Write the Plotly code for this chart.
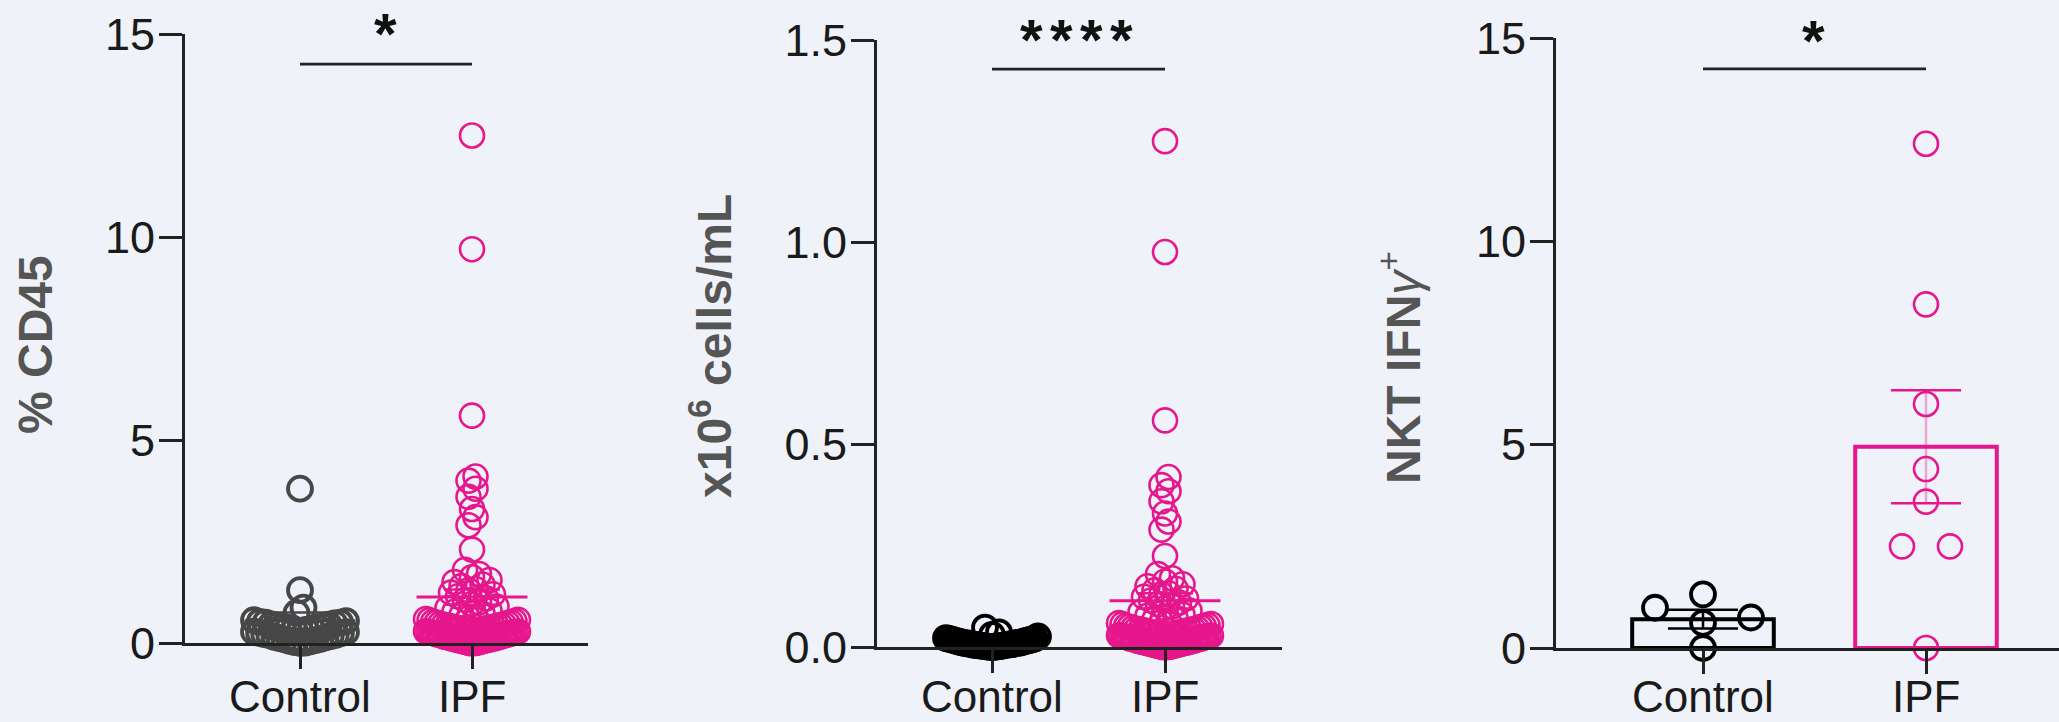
import plotly.graph_objects as go

# ---------------- data ----------------
categories = ["Control", "IPF"]

# Panel 1: % CD45
cd45_control = [3.8, 1.3, 0.87, 0.74,
                0.56, 0.54, 0.52, 0.5, 0.5, 0.48, 0.46, 0.45, 0.43, 0.42, 0.4, 0.38, 0.37, 0.35,
                0.33, 0.32, 0.3, 0.28, 0.27, 0.25, 0.24, 0.22, 0.2, 0.19, 0.17, 0.15, 0.14, 0.12,
                0.1, 0.09, 0.07, 0.05, 0.04, 0.02, 0.01, 0.0]
cd45_ipf = [12.5, 9.7, 5.6, 4.1, 4.0, 3.8, 3.6, 3.3, 3.1, 2.9, 2.3, 1.8,
            1.7, 1.62, 1.55, 1.5, 1.44, 1.4, 1.33, 1.3, 1.24, 1.2, 1.15, 1.1, 1.06, 1.0, 0.96,
            0.9, 0.86, 0.8, 0.77, 0.72, 0.68, 0.64, 0.61,
            0.59, 0.57, 0.56, 0.54, 0.52, 0.51, 0.5, 0.49, 0.47, 0.46, 0.45, 0.44, 0.43, 0.42,
            0.41, 0.4, 0.39, 0.38, 0.37, 0.36, 0.35, 0.34, 0.33, 0.32, 0.31, 0.3, 0.3,
            0.29, 0.28, 0.28, 0.27, 0.26, 0.25, 0.25, 0.24, 0.23, 0.22, 0.21, 0.2, 0.2, 0.19,
            0.18, 0.17, 0.16, 0.15, 0.15, 0.14, 0.13, 0.12, 0.12, 0.11, 0.1, 0.1, 0.09, 0.08,
            0.08, 0.07, 0.06, 0.05, 0.05, 0.04, 0.03, 0.02, 0.02, 0.01, 0.0, 0.0, 0.0]
cd45_mean = [0.55, 1.13]
cd45_sem = [0.20, 0.19]

# Panel 2: x10^6 cells/mL
cells_control = [0.048, 0.036, 0.03, 0.026, 0.022, 0.021, 0.02, 0.019, 0.018, 0.017, 0.016,
                 0.015, 0.014, 0.013, 0.012, 0.011, 0.01, 0.01, 0.009, 0.008, 0.008, 0.007,
                 0.006, 0.006, 0.005, 0.005, 0.004, 0.003, 0.003, 0.002, 0.002, 0.001, 0.001,
                 0.0, 0.0]
cells_ipf = [1.25, 0.976, 0.56, 0.42, 0.40, 0.385, 0.36, 0.33, 0.31, 0.29, 0.225, 0.18,
             0.17, 0.162, 0.155, 0.15, 0.144, 0.14, 0.133, 0.13, 0.124, 0.12, 0.115, 0.11, 0.106,
             0.1, 0.096, 0.09, 0.086, 0.08, 0.077, 0.072, 0.068, 0.064, 0.061,
             0.059, 0.057, 0.056, 0.054, 0.052, 0.051, 0.05, 0.049, 0.047, 0.046, 0.045, 0.044,
             0.043, 0.042, 0.041, 0.04, 0.039, 0.038, 0.037, 0.036, 0.035, 0.034, 0.033, 0.032,
             0.031, 0.03, 0.03, 0.029, 0.028, 0.028, 0.027, 0.026, 0.025, 0.025, 0.024, 0.023,
             0.022, 0.021, 0.02, 0.02, 0.019, 0.018, 0.017, 0.016, 0.015, 0.015, 0.014, 0.013,
             0.012, 0.012, 0.011, 0.01, 0.01, 0.009, 0.008, 0.008, 0.007, 0.006, 0.005, 0.005,
             0.004, 0.003, 0.002, 0.002, 0.001, 0.0, 0.0, 0.0]
cells_mean = [0.01, 0.114]
cells_sem = [0.003, 0.019]

# Panel 3: NKT IFNγ+
nkt_control = [1.32, 0.99, 0.75, 0.62, 0.0]
nkt_ipf = [12.4, 8.45, 6.0, 4.4, 3.6, 2.5, 2.5, 0.0]
nkt_mean = [0.71, 4.95]
nkt_sem = [0.23, 1.39]

y_titles = ["<b>% CD45</b>", "<b>x10<sup>6</sup> cells/mL</b>", "<b>NKT IFN</b><i>γ</i><sup>+</sup>"]
y_ticks = [[0, 5, 10, 15], [0.0, 0.5, 1.0, 1.5], [0, 5, 10, 15]]
y_max = [15, 1.5, 15]
signif = ["*", "****", "*"]
signif_level = [14.26, 1.428, 14.24]

# ---------------- styling / layout ----------------
W, H = 2059, 722
BG = "#F0F2F9"
PINK = "#E6168C"
PINK_LIGHT = "rgba(230,22,140,0.35)"
AX = "#222222"
FONT = "Liberation Sans, Arial, sans-serif"
TICK_SIZE = 45
CAT_SIZE = 44

# pixel geometry of the three panels: axis x0, x1, control tick x, px per category, y of 0, y of max,
# and vertical centre of the category labels
geom = [
    dict(x0=185, x1=588, c=300, ppx=172, y0=643, yt=34, lab=696),
    dict(x0=877, x1=1282, c=992, ppx=173, y0=647, yt=40, lab=696),
    dict(x0=1556, x1=2059, c=1703, ppx=223, y0=648, yt=38, lab=696),
]


def swarm(vals, ppy, ppx, row_px, step_px, max_hw):
    """Prism-like scatter spreading: returns x offsets in category units."""
    order = sorted(range(len(vals)), key=lambda i: vals[i])
    rows = []
    for i in order:
        ypx = vals[i] * ppy
        if rows and ypx - rows[-1][0] < row_px:
            rows[-1][1].append(i)
        else:
            rows.append([ypx, [i]])
    off = [0.0] * len(vals)
    for _, idx in rows:
        k = len(idx)
        s = step_px if k == 1 else min(step_px, 2 * max_hw / (k - 1))
        pos = []
        for j in range(k):
            m = (j + 1) // 2
            pos.append(m * s if j % 2 == 1 else -m * s)
        shift = -(max(pos) + min(pos)) / 2
        for i, p in zip(idx, pos):
            off[i] = (p + shift) / ppx
    return off


fig = go.Figure()
layout_axes = {}
annotations = []

panel_data = [
    (cd45_control, cd45_ipf, cd45_mean, cd45_sem, "#474747"),
    (cells_control, cells_ipf, cells_mean, cells_sem, "#000000"),
    (nkt_control, nkt_ipf, nkt_mean, nkt_sem, "#000000"),
]

for p, (ctrl, ipf, mean, sem, ccol) in enumerate(panel_data):
    g = geom[p]
    xa = "x" if p == 0 else f"x{p+1}"
    ya = "y" if p == 0 else f"y{p+1}"
    ppy = (g["y0"] - g["yt"]) / y_max[p]
    ppx = g["ppx"]
    cols = [ccol, PINK]

    if p == 2:
        for k, c in enumerate(cols):
            fig.add_trace(go.Bar(x=[k], y=[mean[k]], width=0.635, xaxis=xa, yaxis=ya,
                                 marker=dict(color="rgba(0,0,0,0)", line=dict(color=c, width=4))))
        for k, c in enumerate(cols):
            stem = PINK_LIGHT if k == 1 else c
            fig.add_trace(go.Scatter(x=[k, k], y=[mean[k] - sem[k], mean[k] + sem[k]], mode="lines",
                                     line=dict(color=stem, width=2.5), xaxis=xa, yaxis=ya,
                                     cliponaxis=False))
        row_px, step_px, max_hw = 20, 48, 60
    else:
        row_px, step_px, max_hw = 12, 7, 46

    for k, (vals, c) in enumerate(zip([ctrl, ipf], cols)):
        offs = swarm(vals, ppy, ppx, row_px, step_px, max_hw)
        lw = 2.6 if c == PINK else 3.8
        fig.add_trace(go.Scatter(
            x=[k + o for o in offs], y=vals, mode="markers", xaxis=xa, yaxis=ya, cliponaxis=False,
            marker=dict(symbol="circle-open", size=24, color=c, line=dict(width=lw, color=c))))

    for k, c in enumerate(cols):
        if p != 2:
            hw = 55.5 / ppx
            fig.add_trace(go.Scatter(x=[k - hw, k + hw], y=[mean[k], mean[k]], mode="lines",
                                     line=dict(color=c, width=3), xaxis=xa, yaxis=ya, cliponaxis=False))
            cap = 28 / ppx
        else:
            cap = 35 / ppx
        for s in (-1, 1):
            yv = mean[k] + s * sem[k]
            fig.add_trace(go.Scatter(x=[k - cap, k + cap], y=[yv, yv], mode="lines",
                                     line=dict(color=c, width=2.5), xaxis=xa, yaxis=ya, cliponaxis=False))

    fig.add_trace(go.Scatter(x=[0, 1], y=[signif_level[p]] * 2, mode="lines",
                             line=dict(color=AX, width=2.7), xaxis=xa, yaxis=ya, cliponaxis=False))

    # category labels (placed as annotations on the category positions)
    for k, cat in enumerate(categories):
        annotations.append(dict(text=cat, x=k, xref=xa, y=1 - g["lab"] / H, yref="paper",
                                showarrow=False, xanchor="center", yanchor="middle",
                                font=dict(family=FONT, size=CAT_SIZE, color="#1a1a1a")))

    xr = [(g["x0"] - g["c"]) / ppx, (g["x1"] - g["c"]) / ppx]
    xkey = "xaxis" if p == 0 else f"xaxis{p+1}"
    ykey = "yaxis" if p == 0 else f"yaxis{p+1}"
    layout_axes[xkey] = dict(
        domain=[g["x0"] / W, g["x1"] / W], range=xr, anchor=ya, automargin=False,
        tickmode="array", tickvals=[0, 1], showticklabels=False,
        showline=True, linecolor=AX, linewidth=2.7, ticks="outside", ticklen=23, tickwidth=2.7,
        tickcolor=AX, showgrid=False, zeroline=False)
    layout_axes[ykey] = dict(
        domain=[1 - g["y0"] / H, 1 - g["yt"] / H], range=[0, y_max[p]], anchor=xa, automargin=False,
        tickmode="array", tickvals=y_ticks[p],
        ticktext=[(f"{v:.1f}" if p == 1 else f"{v:g}") for v in y_ticks[p]],
        showline=True, linecolor=AX, linewidth=2.7, ticks="outside", ticklen=23, tickwidth=2.7,
        tickcolor=AX, showgrid=False, zeroline=False, ticklabelstandoff=-5,
        tickfont=dict(family=FONT, size=TICK_SIZE, color="#1a1a1a"))

title_pos = [(35, 345), (711, 346), (1400, 368)]
for (tx, ty), t in zip(title_pos, y_titles):
    annotations.append(dict(text=t, x=tx / W, y=1 - ty / H, xref="paper", yref="paper",
                            showarrow=False, textangle=-90, xanchor="center", yanchor="middle",
                            font=dict(family=FONT, size=48, color="#555555")))

star_pos = [[(385, 34)], [(1031, 39), (1061, 39), (1091, 39), (1121, 39)], [(1813, 40)]]
for p, lst in enumerate(star_pos):
    for sx, sy in lst:
        annotations.append(dict(text="<b>*</b>", x=sx / W, y=1 - sy / H, xref="paper", yref="paper",
                                showarrow=False, xanchor="center", yanchor="middle",
                                font=dict(family=FONT, size=58, color="#111111")))

fig.update_layout(
    width=W, height=H, margin=dict(l=0, r=0, t=0, b=0, autoexpand=False),
    paper_bgcolor=BG, plot_bgcolor=BG, showlegend=False, barmode="overlay",
    annotations=annotations, **layout_axes)

fig.write_html("out.html")
